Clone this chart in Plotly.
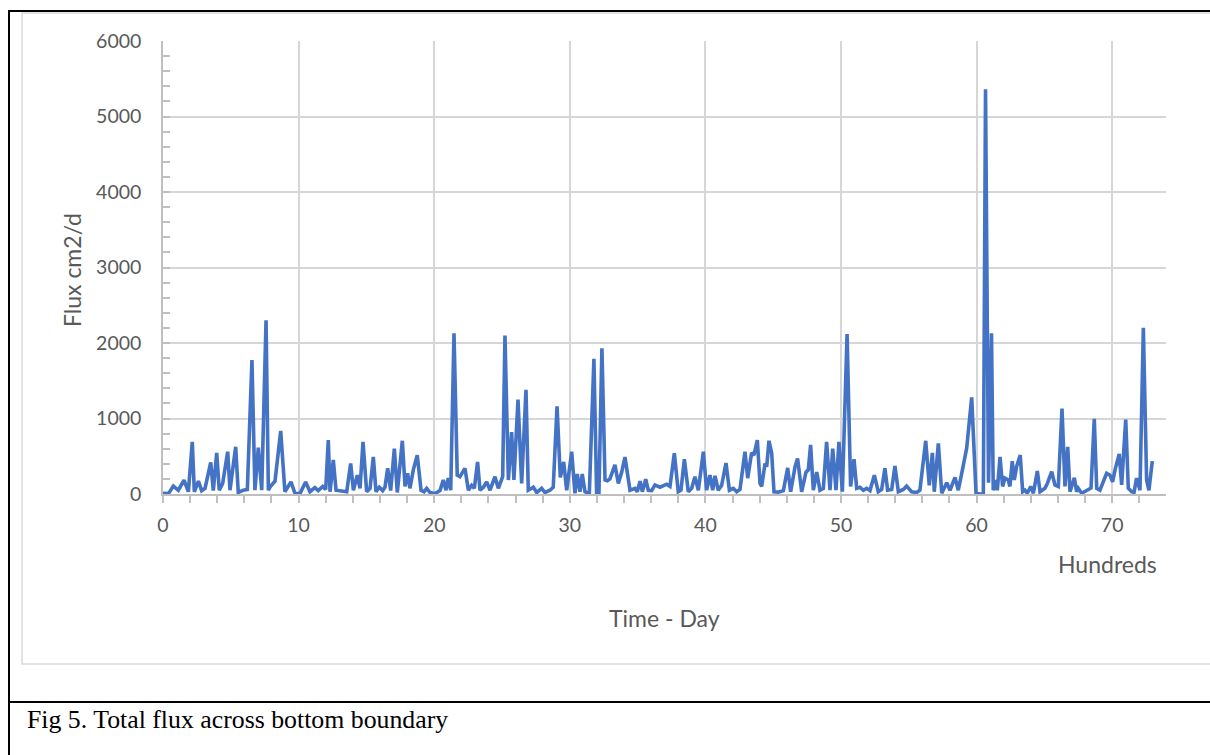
import plotly.graph_objects as go

# Time (hundreds of days) and total flux across the bottom boundary (cm2/d)
time_hundreds = [
    0.0, 0.4, 0.76, 1.13, 1.55, 1.87, 2.16, 2.31, 2.61, 2.85, 3.1, 3.52, 3.71, 3.96, 4.15, 4.4,
    4.77, 4.94, 5.36, 5.55, 5.92, 6.22, 6.56, 6.78, 7.03, 7.28, 7.6, 7.77, 7.96, 8.26, 8.68, 8.99,
    9.44, 9.73, 10.1, 10.52, 10.84, 11.2, 11.45, 11.78, 12.0, 12.19, 12.32, 12.56, 12.76, 13.18,
    13.55, 13.84, 14.04, 14.33, 14.53, 14.75, 15.02, 15.27, 15.51, 15.71, 15.95, 16.2, 16.37,
    16.57, 16.79, 17.06, 17.28, 17.65, 17.85, 18.04, 18.21, 18.46, 18.75, 19.03, 19.25, 19.45,
    19.69, 20.06, 20.43, 20.67, 20.87, 21.04, 21.22, 21.46, 21.7, 21.9, 22.27, 22.52, 22.76,
    22.96, 23.2, 23.38, 23.63, 23.87, 24.12, 24.48, 24.73, 25.05, 25.22, 25.47, 25.71, 25.88,
    26.18, 26.45, 26.77, 26.94, 27.31, 27.56, 27.93, 28.17, 28.54, 28.78, 29.06, 29.3, 29.55,
    29.77, 30.14, 30.38, 30.55, 30.75, 30.92, 31.12, 31.44, 31.78, 31.98, 32.15, 32.37, 32.6,
    32.77, 32.96, 33.33, 33.58, 33.83, 34.07, 34.24, 34.44, 34.81, 34.98, 35.18, 35.35, 35.6,
    35.79, 36.04, 36.28, 36.65, 37.15, 37.39, 37.71, 38.0, 38.2, 38.45, 38.74, 38.99, 39.23,
    39.48, 39.85, 40.09, 40.34, 40.54, 40.71, 40.95, 41.2, 41.52, 41.77, 42.06, 42.31, 42.55,
    42.92, 43.12, 43.41, 43.58, 43.83, 44.03, 44.15, 44.4, 44.52, 44.69, 44.89, 45.06, 45.38,
    45.75, 46.07, 46.29, 46.61, 46.8, 47.1, 47.42, 47.59, 47.76, 47.96, 48.21, 48.45, 48.7,
    48.94, 49.19, 49.39, 49.63, 49.85, 50.1, 50.45, 50.71, 50.96, 51.16, 51.4, 51.65, 51.89,
    52.14, 52.46, 52.75, 53.0, 53.24, 53.44, 53.74, 53.98, 54.23, 54.6, 54.84, 55.21, 55.58,
    55.82, 56.25, 56.51, 56.74, 56.88, 57.18, 57.43, 57.8, 58.04, 58.41, 58.65, 58.9, 59.27,
    59.64, 59.96, 60.3, 60.5, 60.66, 60.88, 61.1, 61.23, 61.43, 61.53, 61.73, 61.92, 62.09,
    62.34, 62.46, 62.63, 62.78, 62.96, 63.22, 63.4, 63.57, 63.74, 63.99, 64.19, 64.48, 64.68,
    65.04, 65.22, 65.54, 65.78, 66.03, 66.3, 66.52, 66.72, 66.89, 67.21, 67.38, 67.5, 67.75,
    68.12, 68.44, 68.68, 68.86, 69.1, 69.35, 69.59, 69.84, 70.03, 70.21, 70.52, 70.7, 71.0,
    71.19, 71.44, 71.61, 71.8, 72.05, 72.3, 72.54, 72.71, 72.96,
]
flux = [
    10, 5, 105, 50, 185, 30, 690, 30, 170, 45, 75, 420, 45, 545, 50, 140,
    560, 50, 625, 20, 50, 60, 1775, 50, 615, 50, 2300, 50, 110, 170, 835, 30,
    160, 10, 5, 160, 30, 85, 45, 100, 60, 715, 30, 450, 50, 45,
    30, 405, 50, 250, 75, 690, 30, 75, 490, 30, 90, 45, 90,
    340, 45, 600, 20, 705, 100, 275, 75, 320, 515, 50, 30, 75,
    20, 5, 45, 185, 50, 210, 50, 2130, 250, 230, 340, 50, 115,
    75, 425, 50, 90, 160, 50, 230, 75, 230, 2100, 185, 820, 185,
    1250, 140, 1380, 50, 90, 20, 75, 20, 50, 90, 1160, 220, 425,
    50, 560, 10, 265, 30, 265, 30, 5, 1790, 10, 5, 1930, 185,
    175, 200, 385, 140, 290, 490, 290, 50, 75, 30, 170, 30, 195,
    50, 45, 120, 90, 130, 100, 540, 30, 50, 460, 30, 75, 230,
    50, 560, 50, 250, 50, 240, 50, 115, 410, 50, 75, 30, 60,
    560, 210, 545, 515, 715, 140, 100, 405, 360, 705, 540, 30, 25,
    45, 345, 30, 360, 470, 30, 290, 320, 650, 50, 290, 50, 75,
    690, 50, 600, 50, 690, 30, 2120, 100, 460, 75, 90, 50, 75,
    45, 250, 30, 60, 340, 50, 60, 370, 30, 60, 105, 30, 20,
    50, 705, 115, 545, 30, 670, 10, 150, 50, 220, 50, 270, 605,
    1280, 5, 0, 0, 5360, 150, 2130, 50, 185, 50, 490, 100, 210,
    185, 100, 435, 185, 370, 515, 30, 50, 10, 100, 10, 305, 30,
    75, 140, 295, 120, 100, 1130, 100, 625, 30, 215, 30, 75, 10,
    50, 80, 995, 75, 50, 160, 275, 250, 160, 320, 530, 120, 985,
    75, 30, 20, 210, 50, 2200, 185, 50, 435,
]

x_ticks = [0, 10, 20, 30, 40, 50, 60, 70]
y_ticks = [0, 1000, 2000, 3000, 4000, 5000, 6000]

W, H = 1210, 755
L, R, T, B = 163, 1166, 41, 494          # plot area in pixels


def px(x):
    return (x - L) / (R - L)


def py(y):
    return (B - y) / (B - T)


label_font = dict(family="Lato, Carlito, sans-serif", size=19.5, color="#595959")
title_font = dict(family="Lato, Carlito, sans-serif", size=23, color="#595959")
grid_col = "#d6d6d6"
axis_col = "#bfbfbf"

fig = go.Figure(
    go.Scatter(
        x=time_hundreds,
        y=flux,
        mode="lines",
        line=dict(color="#4472C4", width=3.6),
        showlegend=False,
        hoverinfo="skip",
    )
)

fig.update_layout(
    width=W,
    height=H,
    margin=dict(l=L, r=W - R, t=T, b=H - B, pad=0),
    paper_bgcolor="white",
    plot_bgcolor="white",
    showlegend=False,
)

fig.update_xaxes(
    range=[0, 73.97],
    tickvals=x_ticks,
    ticktext=[str(v) for v in x_ticks],
    tickfont=label_font,
    showgrid=True,
    gridcolor=grid_col,
    gridwidth=1.8,
    zeroline=False,
    showline=True,
    linecolor=axis_col,
    linewidth=1.5,
    ticks="outside",
    ticklen=7,
    tickcolor=axis_col,
    tickwidth=1.5,
    ticklabelstandoff=6,
    minor=dict(dtick=2, ticks="outside", ticklen=7, tickcolor=axis_col, tickwidth=1.5, showgrid=False),
)

fig.update_yaxes(
    range=[0, 6000],
    tickvals=y_ticks,
    ticktext=[str(v) for v in y_ticks],
    tickfont=label_font,
    showgrid=True,
    gridcolor=grid_col,
    gridwidth=1.8,
    zeroline=False,
    showline=True,
    linecolor=axis_col,
    linewidth=1.5,
    ticks="inside",
    ticklen=7,
    tickcolor=axis_col,
    tickwidth=1.5,
    ticklabelstandoff=16,
    minor=dict(dtick=200, ticks="inside", ticklen=7, tickcolor=axis_col, tickwidth=1.5, showgrid=False),
)

# Frame lines: chart area border, page rules and caption separator
fig.add_shape(type="rect", xref="paper", yref="paper",
              x0=px(22), y0=py(664), x1=px(1216), y1=py(13),
              line=dict(color="#d9d9d9", width=1.5), layer="below")
fig.add_shape(type="line", xref="paper", yref="paper",
              x0=px(9), y0=py(10), x1=px(9), y1=py(760),
              line=dict(color="black", width=2))
fig.add_shape(type="line", xref="paper", yref="paper",
              x0=px(8), y0=py(11), x1=px(1216), y1=py(11),
              line=dict(color="black", width=2))
fig.add_shape(type="line", xref="paper", yref="paper",
              x0=px(8), y0=py(702), x1=px(1216), y1=py(702),
              line=dict(color="black", width=2))

annotations = [
    dict(text="Flux cm2/d", x=px(72), y=py(270), textangle=-90, font=title_font),
    dict(text="Time - Day", x=px(664), y=py(618), font=title_font),
    dict(text="Hundreds", x=px(1107), y=py(564), font=title_font),
    dict(text="Fig 5. Total flux across bottom boundary", x=px(25), y=py(719),
         xanchor="left", font=dict(family="Liberation Serif, Times New Roman, serif", size=25.8, color="black")),
]
for a in annotations:
    a.setdefault("xanchor", "center")
    fig.add_annotation(xref="paper", yref="paper", yanchor="middle", showarrow=False, **a)

fig.write_html("out.html")
